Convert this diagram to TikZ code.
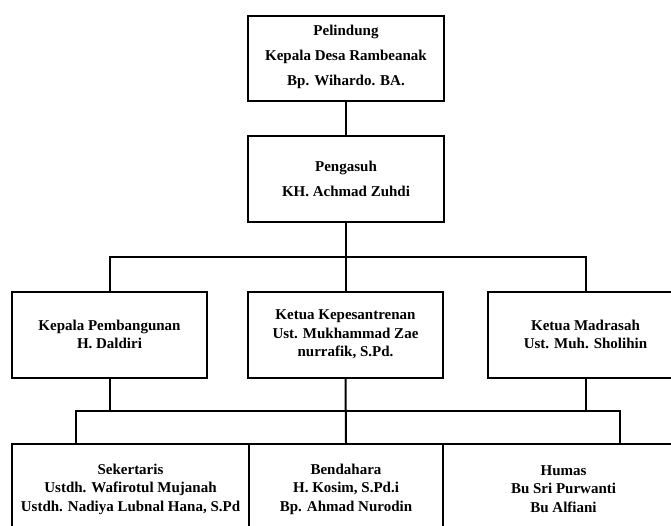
\documentclass[tikz,border=0pt]{standalone}
\usepackage{fontspec}
\setmainfont{Liberation Serif}
\usepackage{tikz}

\begin{document}
\begin{tikzpicture}[x=1pt, y=-1pt,
  box/.style={draw, line width=2pt, align=center, inner sep=0pt,
              minimum height=86pt, font=\bfseries\fontsize{15}{18.5}\selectfont},
  topbox/.style={box, minimum width=196pt, font=\bfseries\fontsize{15}{25}\selectfont},
  link/.style={line width=2pt}]
\useasboundingbox (0,0) rectangle (671,526);
% ---- top: pelindung and pengasuh ----
\node[topbox, minimum height=85pt, text depth=7pt] (pel) at (346,58.5)
  {Pelindung\\Kepala Desa Rambeanak\\Bp. Wihardo. BA.};
\node[topbox] (asuh) at (346,179) {Pengasuh\\KH. Achmad Zuhdi};
\draw[link] (pel.south) -- (asuh.north);
% ---- second row ----
\foreach \nm/\cx/\txt in {bangun/109.5/{Kepala Pembangunan\\H. Daldiri},
    pesantren/345.5/{Ketua Kepesantrenan\\Ust. Mukhammad Zae\\nurrafik, S.Pd.},
    madrasah/585.5/{Ketua Madrasah\\Ust. Muh. Sholihin}} {
  \node[box, minimum width=195pt] (\nm) at (\cx,334.5) {\txt};
}
\coordinate (bus1) at (0,257);
\draw[link] (asuh.south) -- (asuh.south |- bus1);
\draw[link] (bangun.north) |- (madrasah.north |- bus1) -- (madrasah.north);
\draw[link] (pesantren.north) -- (pesantren.north |- bus1);
% ---- third row (runs off the page) ----
\foreach \nm/\cx/\bw/\txt in {
    sekretaris/130.5/237/{Sekertaris\\Ustdh. Wafirotul Mujanah\\Ustdh. Nadiya Lubnal Hana, S.Pd},
    bendahara/346/194/{Bendahara\\H. Kosim, S.Pd.i\\Bp. Ahmad Nurodin},
    humas/563.5/241/{Humas\\Bu Sri Purwanti\\Bu Alfiani}} {
  \node[box, minimum width=\bw pt, minimum height=90pt] (\nm) at (\cx,489) {\txt};
}
\coordinate (bus2) at (0,411);
\coordinate (dropL) at (76,444);
\coordinate (dropR) at (620,444);
\draw[link] (bangun.south) -- (bangun.south |- bus2);
\draw[link] (madrasah.south) -- (madrasah.south |- bus2);
\draw[link] (pesantren.south) -- (bendahara.north);
\draw[link] (dropL) -- (dropL |- bus2) -- (dropR |- bus2) -- (dropR);
\end{tikzpicture}
\end{document}
